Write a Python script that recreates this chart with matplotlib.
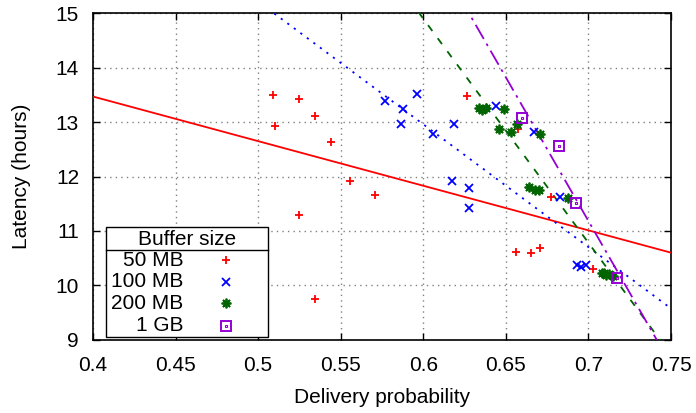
import matplotlib
matplotlib.use("Agg")
import matplotlib.pyplot as plt
import numpy as np
from matplotlib.patches import Rectangle
from matplotlib.lines import Line2D

plt.rcParams['font.family'] = ['Liberation Sans', 'DejaVu Sans']

# ---- data ----
labels = ["50 MB", "100 MB", "200 MB", "1 GB"]

x_50 = [0.5087, 0.5249, 0.5344, 0.5103, 0.544, 0.5557, 0.5707, 0.5249, 0.5344,
        0.6263, 0.6573, 0.6561, 0.665, 0.6709, 0.6776, 0.7029]
y_50 = [13.49, 13.43, 13.12, 12.92, 12.63, 11.92, 11.66, 11.29, 9.75,
        13.48, 12.88, 10.62, 10.59, 10.69, 11.62, 10.30]

x_100 = [0.5766, 0.588, 0.596, 0.5863, 0.6056, 0.6441, 0.6188, 0.6668, 0.6176,
         0.6277, 0.6277, 0.683, 0.6932, 0.6958, 0.6983]
y_100 = [13.39, 13.24, 13.51, 12.96, 12.79, 13.30, 12.97, 12.81, 11.92,
         11.78, 11.42, 11.62, 10.37, 10.34, 10.37]

x_200 = [0.634, 0.6354, 0.638, 0.6486, 0.6567, 0.6456, 0.653, 0.6705, 0.6638,
         0.6678, 0.6699, 0.6877, 0.7084, 0.7104, 0.7125, 0.7149, 0.7095]
y_200 = [13.26, 13.22, 13.26, 13.24, 12.96, 12.87, 12.81, 12.79, 11.81,
         11.76, 11.76, 11.61, 10.23, 10.19, 10.20, 10.17, 10.22]

x_1g = [0.6597, 0.682, 0.6924, 0.7172]
y_1g = [13.08, 12.56, 11.51, 10.13]

# linear fits: (x0, y0, slope)
fit_50 = (0.40, 13.47, -8.2)
fit_100 = (0.5096, 15.0, -22.57)
fit_200 = (0.5976, 15.0, -41.2)
fit_1g = (0.6277, 15.0, -52.8)

xticks = [0.4, 0.45, 0.5, 0.55, 0.6, 0.65, 0.7, 0.75]
xticklabels = ["0.4", "0.45", "0.5", "0.55", "0.6", "0.65", "0.7", "0.75"]
yticks = [9, 10, 11, 12, 13, 14, 15]

# ---- styles ----
c_red = "#ff0000"
c_blue = "#0000ff"
c_green = "#006400"
c_purple = "#9400d3"
FS = 15

fig = plt.figure(figsize=(6.96, 4.13), dpi=100)
ax = fig.add_axes([93/696, 1-339.7/413, 578/696, 326.4/413])

ax.set_xlim(0.4, 0.75)
ax.set_ylim(9, 15)
ax.set_xticks(xticks)
ax.set_xticklabels(xticklabels)
ax.set_yticks(yticks)
ax.tick_params(direction='in', length=5, width=1, top=True, right=True,
               labelsize=FS)
ax.tick_params(axis='x', pad=12)
ax.tick_params(axis='y', pad=10)
ax.grid(True, linestyle=(0, (1, 3)), color='#808080', linewidth=1)
ax.set_axisbelow(True)
for s in ax.spines.values():
    s.set_linewidth(1.2)

xs = np.linspace(0.4, 0.75, 400)
def fitline(f):
    x0, y0, m = f
    return y0 + m * (xs - x0)

ax.plot(xs, fitline(fit_50), color=c_red, lw=1.3, zorder=3)
ax.plot(xs, fitline(fit_100), color=c_blue, lw=1.3, linestyle=(0, (1.2, 3.3)), zorder=3)
ax.plot(xs, fitline(fit_200), color=c_green, lw=1.3, linestyle=(0, (4, 5)), zorder=3)
ax.plot(xs, fitline(fit_1g), color=c_purple, lw=1.3, linestyle=(0, (9, 3, 1.5, 3)), zorder=3)

ms = 6
ax.plot(x_50, y_50, linestyle='none', marker='+', ms=ms, mew=1.3, color=c_red, zorder=4)
ax.plot(x_100, y_100, linestyle='none', marker='x', ms=ms-0.5, mew=1.3, color=c_blue, zorder=4)
ax.plot(x_200, y_200, linestyle='none', marker=(8, 2, 0), ms=ms+1, mew=1.3, color=c_green, zorder=4)
ax.plot(x_1g, y_1g, linestyle='none', marker='s', ms=ms+1, mew=1.4, mfc='none', mec=c_purple, zorder=4)
ax.plot(x_1g, y_1g, linestyle='none', marker='s', ms=2, mew=0.8, mfc='none', mec=c_purple, zorder=4)

ax.set_xlabel("Delivery probability", fontsize=FS, labelpad=9)
ax.set_ylabel("Latency (hours)", fontsize=FS, labelpad=18)

# ---- manual legend (gnuplot style) ----
bx0, bx1, by0, by1 = 0.0225, 0.3028, 0.008, 0.345
ax.add_patch(Rectangle((bx0, by0), bx1-bx0, by1-by0, transform=ax.transAxes,
                       facecolor='white', edgecolor='black', lw=1, zorder=6,
                       clip_on=False))
ax.add_line(Line2D([bx0, bx1], [0.275, 0.275], transform=ax.transAxes,
                   color='black', lw=1, zorder=7))
ax.text((bx0+bx1)/2, 0.307, "Buffer size", transform=ax.transAxes, ha='center',
        va='center', fontsize=FS, zorder=8)
rows = [0.243, 0.177, 0.112, 0.042]
leg_styles = [
    dict(marker='+', ms=ms, mew=1.3, color=c_red),
    dict(marker='x', ms=ms-0.5, mew=1.3, color=c_blue),
    dict(marker=(8, 2, 0), ms=ms+1, mew=1.3, color=c_green),
    dict(marker='s', ms=ms+1, mew=1.4, mfc='none', mec=c_purple),
]
for lab, ry, st in zip(labels, rows, leg_styles):
    ax.text(0.156, ry, lab, transform=ax.transAxes, ha='right', va='center',
            fontsize=FS, zorder=8)
    ax.plot([0.2296], [ry], transform=ax.transAxes, linestyle='none', zorder=8,
            clip_on=False, **st)
ax.plot([0.2296], [rows[3]], transform=ax.transAxes, linestyle='none', marker='s',
        ms=2, mew=0.8, mfc='none', mec=c_purple, zorder=8)

fig.savefig("out.png", dpi=100)
